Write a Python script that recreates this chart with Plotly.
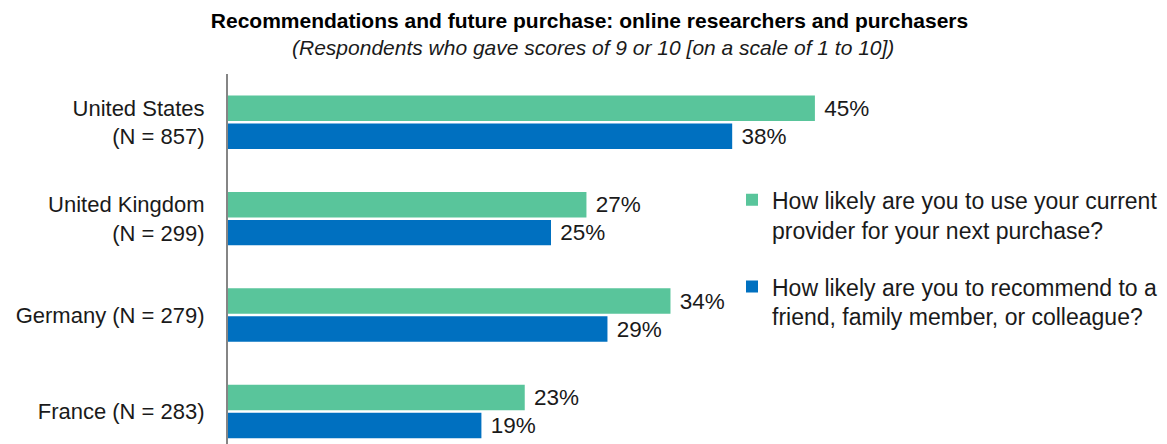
import plotly.graph_objects as go

categories = ["United States<br>(N = 857)", "United Kingdom<br>(N = 299)",
              "Germany (N = 279)", "France (N = 283)"]
series_names = ["How likely are you to use your current<br>provider for your next purchase?",
                "How likely are you to recommend to a<br>friend, family member, or colleague?"]
next_purchase = [44.7, 27.3, 33.7, 22.6]
recommend = [38.4, 24.6, 28.9, 19.3]
colors = ["#59C59B", "#0070C0"]

FONT = "Liberation Sans, Arial, sans-serif"

fig = go.Figure()
for i, (name, vals) in enumerate(zip(series_names, [next_purchase, recommend])):
    fig.add_trace(go.Bar(
        y=categories, x=vals, orientation="h", name=name,
        marker=dict(color=colors[i], line=dict(width=0)),
        text=["\u00a0%.0f%%" % v for v in vals],
        textposition="outside", constraintext="none", cliponaxis=False,
        textfont=dict(size=22.5, color="#1a1a1a", family=FONT),
        legendgroup="g%d" % i, hoverinfo="skip",
    ))

fig.update_layout(
    width=1167, height=444,
    margin=dict(l=228, r=0, t=74, b=0),
    paper_bgcolor="white", plot_bgcolor="white",
    barmode="group", bargap=0.42, bargroupgap=0.09,
    font=dict(family=FONT, size=22, color="#1a1a1a"),
    title=dict(text="<b>Recommendations and future purchase: online researchers and purchasers</b>",
               x=589.5 / 1167, xanchor="center", y=1 - 21 / 444, yanchor="middle",
               font=dict(size=21, family=FONT, color="#000000")),
    annotations=[dict(text="<i>(Respondents who gave scores of 9 or 10 [on a scale of 1 to 10])</i>",
                      xref="paper", yref="paper", x=(593 - 228) / 939, y=1 + (74 - 47) / 370,
                      xanchor="center", yanchor="middle", showarrow=False,
                      font=dict(size=21, family=FONT, color="#1a1a1a"))],
    xaxis=dict(range=[0, 939 / 13.13], showgrid=False, zeroline=False, showline=False,
               showticklabels=False, ticks=""),
    yaxis=dict(range=[3.337, -0.5], showgrid=False, zeroline=False, showline=True,
               linecolor="#858585", linewidth=2, ticks="outside", ticklen=17,
               tickcolor="rgba(0,0,0,0)", tickfont=dict(size=22, family=FONT, color="#1a1a1a")),
    legend=dict(x=(732 - 228) / 939, y=0.718, xanchor="left", yanchor="top",
                valign="top", traceorder="grouped", tracegroupgap=24,
                font=dict(size=23, family=FONT, color="#1a1a1a"),
                bgcolor="rgba(0,0,0,0)"),
    showlegend=True,
)

fig.write_html("out.html")
